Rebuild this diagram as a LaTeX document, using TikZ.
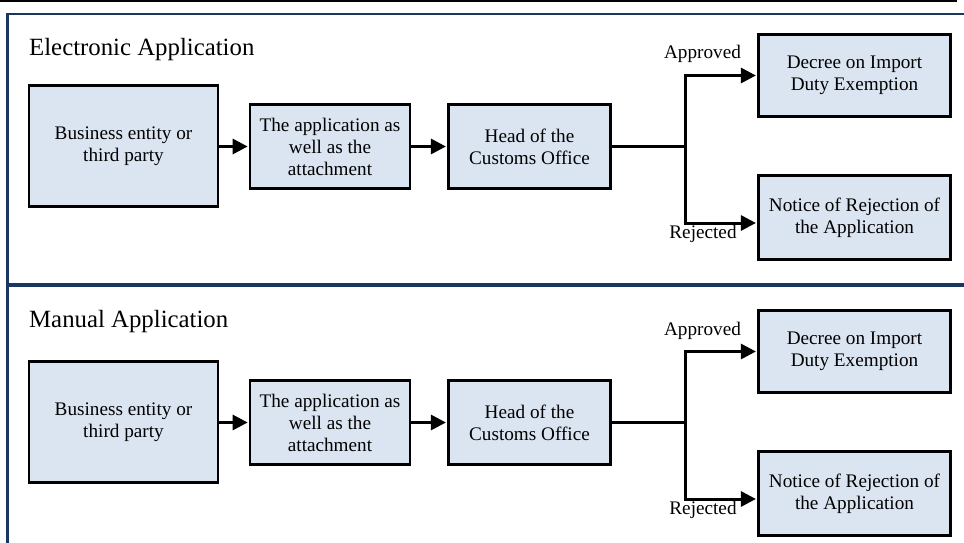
\documentclass[tikz,border=0pt]{standalone}
\usepackage{fontspec}
\setmainfont{Liberation Serif}
\usetikzlibrary{arrows.meta}

\definecolor{boxfill}{RGB}{219,229,241}
\definecolor{panelnavy}{RGB}{25,55,95}

\tikzset{
  stagebox/.style={draw=black, line width=2.7pt, fill=boxfill, align=center,
    inner sep=0pt, font=\fontsize{19.2}{22}\selectfont},
  flow/.style={line width=3pt, -{Triangle[length=15pt,width=15pt]}, shorten >=1pt},
  link/.style={line width=3pt},
  branchlabel/.style={anchor=base, inner sep=0pt, font=\fontsize{19.2}{22}\selectfont},
  paneltitle/.style={anchor=base west, inner sep=0pt, font=\fontsize{24.8}{28}\selectfont},
}

% One application route: title, three stages, then the approve/reject split.
% #1 = name prefix, #2 = title, #3 = vertical offset of the panel, #4 = title baseline
\newcommand{\routepanel}[4]{%
  \begin{scope}[shift={(0,#3)}]
    \node[paneltitle] (#1title) at (29,#4) {#2};
    \node[stagebox, minimum width=189pt, minimum height=120.5pt] (#1entity) at (123.5,146)
      {Business entity or\\third party};
    \node[stagebox, minimum width=160pt, minimum height=84.5pt] (#1appl) at (330,146.5)
      {The application as\\well as the\\attachment};
    \node[stagebox, minimum width=162.5pt, minimum height=84.5pt] (#1head) at (529.5,146.5)
      {Head of the\\Customs Office};
    \node[stagebox, minimum width=192.5pt, minimum height=82.5pt] (#1decree) at (854.5,75.5)
      {Decree on Import\\Duty Exemption};
    \node[stagebox, minimum width=192.5pt, minimum height=84.5pt] (#1notice) at (854.5,217.5)
      {Notice of Rejection of\\the Application};
    \coordinate (#1split) at (685.5,146);
    \coordinate (#1rej) at (685.5,223);
    \draw[flow] (#1entity.east |- #1appl.west) -- (#1appl.west);
    \draw[flow] (#1appl.east) -- (#1head.west);
    \draw[link] (#1head.east |- #1split) -- (#1split);
    \draw[flow] (#1split) |- (#1decree.west);
    \draw[flow] (#1split) -- (#1rej) -- (#1rej -| #1notice.west);
    \node[branchlabel] (#1yes) at (702.5,59) {Approved};
    \node[branchlabel] (#1no) at (703,238.5) {Rejected};
  \end{scope}%
}

\begin{document}
\begin{tikzpicture}[x=1pt, y=-1pt]
  \useasboundingbox (0,0) rectangle (964,543);
  \fill[white] (0,0) rectangle (964,543);

  % page rule and panel frame
  \fill[black] (0,0) rectangle (957,2.3);
  \draw[panelnavy, line width=2.6pt] (7.5,543) -- (7.5,14) -- (964,14);
  \draw[panelnavy, line width=4pt] (7.5,285) -- (964,285);

  \routepanel{e}{Electronic Application}{0}{55.5}
  \routepanel{m}{Manual Application}{276}{51.5}
\end{tikzpicture}
\end{document}
